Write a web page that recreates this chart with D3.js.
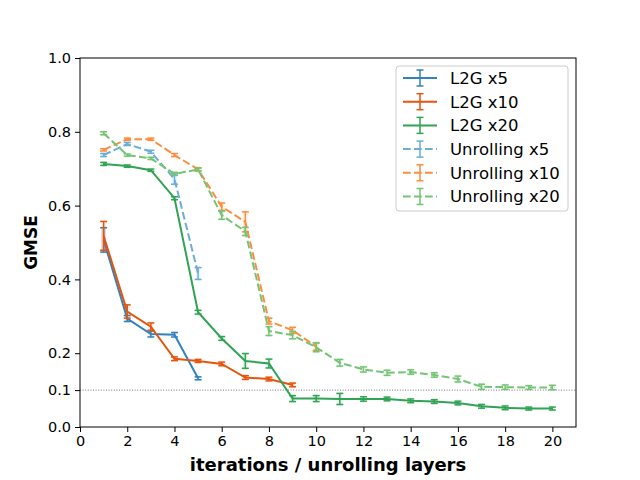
<!DOCTYPE html>
<html>
<head>
<meta charset="utf-8">
<script src="https://cdn.jsdelivr.net/npm/d3@7"></script>
<style>
  body { margin: 0; background: #fff; }
  text { font-family: "DejaVu Sans", sans-serif; }
</style>
</head>
<body>
<div id="chart"></div>
<script>
// values
var l2g5      = [0.507, 0.294, 0.252, 0.250, 0.132];
var l2g5Err   = [0.033, 0.008, 0.008, 0.006, 0.004];
var l2g10     = [0.518, 0.313, 0.272, 0.185, 0.179, 0.171, 0.134, 0.130, 0.114];
var l2g10Err  = [0.039, 0.018, 0.010, 0.005, 0.004, 0.005, 0.005, 0.005, 0.005];
var l2g20     = [0.713, 0.707, 0.696, 0.620, 0.311, 0.240, 0.179, 0.172, 0.077, 0.077,
                 0.076, 0.076, 0.076, 0.071, 0.069, 0.065, 0.056, 0.052, 0.050, 0.050];
var l2g20Err  = [0.004, 0.003, 0.003, 0.004, 0.005, 0.005, 0.020, 0.012, 0.008, 0.008,
                 0.015, 0.006, 0.005, 0.005, 0.005, 0.005, 0.005, 0.005, 0.004, 0.004];
var unr5      = [0.737, 0.767, 0.746, 0.672, 0.416];
var unr5Err   = [0.004, 0.004, 0.004, 0.014, 0.016];
var unr10     = [0.751, 0.780, 0.780, 0.737, 0.698, 0.597, 0.556, 0.287, 0.262, 0.218];
var unr10Err  = [0.003, 0.003, 0.003, 0.004, 0.004, 0.010, 0.027, 0.008, 0.008, 0.010];
var unr20     = [0.796, 0.737, 0.728, 0.686, 0.698, 0.574, 0.530, 0.260, 0.249, 0.216,
                 0.174, 0.156, 0.147, 0.149, 0.141, 0.130, 0.109, 0.108, 0.107, 0.107];
var unr20Err  = [0.004, 0.003, 0.003, 0.004, 0.004, 0.011, 0.011, 0.012, 0.010, 0.012,
                 0.009, 0.007, 0.007, 0.006, 0.006, 0.008, 0.007, 0.006, 0.005, 0.006];

var seriesNames  = ["L2G x5", "L2G x10", "L2G x20", "Unrolling x5", "Unrolling x10", "Unrolling x20"];
var seriesVals   = [l2g5, l2g10, l2g20, unr5, unr10, unr20];
var seriesErrs   = [l2g5Err, l2g10Err, l2g20Err, unr5Err, unr10Err, unr20Err];
var seriesColors = ["#3182bd", "#e6550d", "#31a354", "#6baed6", "#fd8d3c", "#74c476"];
var seriesDashed = [false, false, false, true, true, true];

var xTicks = [0, 2, 4, 6, 8, 10, 12, 14, 16, 18, 20];
var yTicks = [0.0, 0.1, 0.2, 0.4, 0.6, 0.8, 1.0];
var refLine = 0.1;

// set dimensions of graph
var margin = {top: 58, right: 64, bottom: 53, left: 80},
    width = 640 - margin.left - margin.right,
    height = 480 - margin.top - margin.bottom;

var svg = d3.select("#chart")
  .append("svg")
    .attr("width", 640)
    .attr("height", 480)
  .append("g")
    .attr("transform", "translate(" + margin.left + "," + margin.top + ")");

var x = d3.scaleLinear().domain([0, 21]).range([0, width]);
var y = d3.scaleLinear().domain([0, 1]).range([height, 0]);

// dotted reference line
svg.append("line")
  .attr("x1", 0).attr("x2", width)
  .attr("y1", y(refLine)).attr("y2", y(refLine))
  .attr("stroke", "#555")
  .attr("stroke-width", 0.8)
  .attr("stroke-dasharray", "1,1.6");

// series
seriesVals.forEach(function(vals, s) {
  var pts = vals.map(function(v, i) { return {x: i + 1, y: v, e: seriesErrs[s][i]}; });
  var g = svg.append("g");

  g.append("path")
    .datum(pts)
    .attr("fill", "none")
    .attr("stroke", seriesColors[s])
    .attr("stroke-width", 2)
    .attr("stroke-dasharray", seriesDashed[s] ? "7.7,3.3" : null)
    .attr("d", d3.line()
      .x(function(d) { return x(d.x); })
      .y(function(d) { return y(d.y); }));

  var bars = g.selectAll(".eb").data(pts).enter().append("g");
  // faint halo
  bars.append("line")
    .attr("x1", function(d) { return x(d.x); })
    .attr("x2", function(d) { return x(d.x); })
    .attr("y1", function(d) { return y(d.y + d.e) - 1.5; })
    .attr("y2", function(d) { return y(d.y - d.e) + 1.5; })
    .attr("stroke", seriesColors[s])
    .attr("stroke-opacity", 0.12)
    .attr("stroke-width", 5);
  bars.append("line")
    .attr("x1", function(d) { return x(d.x); })
    .attr("x2", function(d) { return x(d.x); })
    .attr("y1", function(d) { return y(d.y + d.e); })
    .attr("y2", function(d) { return y(d.y - d.e); })
    .attr("stroke", seriesColors[s])
    .attr("stroke-width", 1.5);
  [1, -1].forEach(function(sign) {
    bars.append("line")
      .attr("x1", function(d) { return x(d.x) - 3.5; })
      .attr("x2", function(d) { return x(d.x) + 3.5; })
      .attr("y1", function(d) { return y(d.y + sign * d.e); })
      .attr("y2", function(d) { return y(d.y + sign * d.e); })
      .attr("stroke", seriesColors[s])
      .attr("stroke-width", 1.5);
  });
});

// axes
var xAxis = svg.append("g")
  .attr("transform", "translate(0," + height + ")")
  .call(d3.axisBottom(x).tickValues(xTicks).tickFormat(d3.format("d")).tickSize(5).tickPadding(4));
var yAxis = svg.append("g")
  .call(d3.axisLeft(y).tickValues(yTicks).tickFormat(d3.format(".1f")).tickSize(5).tickPadding(4));

[xAxis, yAxis].forEach(function(a) {
  a.selectAll("text").attr("font-size", "14.5px").attr("fill", "#000")
    .attr("font-family", "DejaVu Sans, sans-serif");
  a.selectAll(".tick line").attr("stroke", "#000").attr("stroke-width", 1);
  a.select(".domain").remove();
});

// frame
svg.append("rect")
  .attr("x", 0).attr("y", 0)
  .attr("width", width).attr("height", height)
  .attr("fill", "none")
  .attr("stroke", "#000")
  .attr("stroke-width", 1);

// axis labels
svg.append("text")
  .attr("x", width / 2)
  .attr("y", height + 44)
  .attr("text-anchor", "middle")
  .attr("font-size", "18px")
  .attr("font-weight", "bold")
  .text("iterations / unrolling layers");

svg.append("text")
  .attr("transform", "translate(" + (-43) + "," + (height / 2) + ") rotate(-90)")
  .attr("text-anchor", "middle")
  .attr("font-size", "17px")
  .attr("font-weight", "bold")
  .text("GMSE");

// legend
var legend = svg.append("g").attr("transform", "translate(" + (396 - margin.left) + "," + (66 - margin.top) + ")");
legend.append("rect")
  .attr("width", 172).attr("height", 145)
  .attr("rx", 3)
  .attr("fill", "#fff").attr("fill-opacity", 0.8)
  .attr("stroke", "#ccc");

seriesNames.forEach(function(name, s) {
  var ly = 12 + s * 23.7;
  var row = legend.append("g").attr("transform", "translate(0," + ly + ")");
  row.append("line")
    .attr("x1", 7).attr("x2", 41).attr("y1", 0).attr("y2", 0)
    .attr("stroke", seriesColors[s]).attr("stroke-width", 2)
    .attr("stroke-dasharray", seriesDashed[s] ? "7.7,3.3" : null);
  row.append("line")
    .attr("x1", 24).attr("x2", 24).attr("y1", -8).attr("y2", 8)
    .attr("stroke", seriesColors[s]).attr("stroke-width", 1.5);
  [-8, 8].forEach(function(cy) {
    row.append("line")
      .attr("x1", 20.5).attr("x2", 27.5).attr("y1", cy).attr("y2", cy)
      .attr("stroke", seriesColors[s]).attr("stroke-width", 1.5);
  });
  row.append("text")
    .attr("x", 54).attr("y", 0)
    .attr("dy", "0.36em")
    .attr("font-size", "16.5px")
    .text(name);
});
</script>
</body>
</html>
